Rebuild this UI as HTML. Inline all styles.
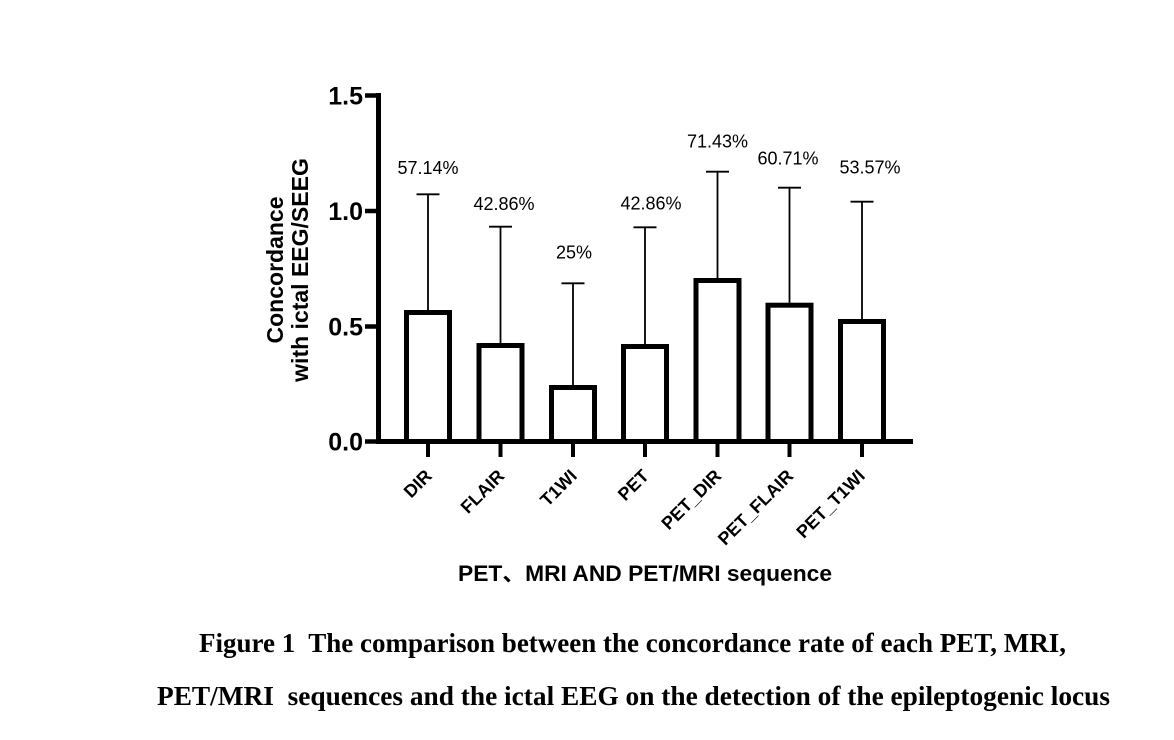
<!DOCTYPE html>
<html>
<head>
<meta charset="utf-8">
<style>
  html, body { margin:0; padding:0; background:#fff; }
  svg { display:block; }
  text { fill:#000; }
  .sans { font-family: "Liberation Sans", "Noto Sans CJK SC", sans-serif; }
  .serif { font-family: "Liberation Serif", "Noto Serif CJK SC", serif; font-weight:bold; }
</style>
</head>
<body>
<svg width="1174" height="740" viewBox="0 0 1174 740" xmlns="http://www.w3.org/2000/svg">
  <rect width="1174" height="740" fill="#fff"/>

  <!-- Axes -->
  <line x1="378.5" y1="93" x2="378.5" y2="444" stroke="#000" stroke-width="5"/>
  <line x1="376" y1="441.5" x2="913" y2="441.5" stroke="#000" stroke-width="5"/>

  <!-- Y ticks -->
  <g stroke="#000" stroke-width="4.5">
    <line x1="365" y1="95.5" x2="379" y2="95.5"/>
    <line x1="365" y1="211" x2="379" y2="211"/>
    <line x1="365" y1="326.5" x2="379" y2="326.5"/>
    <line x1="365" y1="441.5" x2="379" y2="441.5"/>
  </g>
  <g class="sans" font-weight="bold" font-size="25" text-anchor="end">
    <text x="363" y="104.5">1.5</text>
    <text x="363" y="220">1.0</text>
    <text x="363" y="335.5">0.5</text>
    <text x="363" y="450.5">0.0</text>
  </g>

  <!-- Y title -->
  <g class="sans" font-weight="bold" font-size="23" text-anchor="middle">
    <text transform="translate(283,270) rotate(-90)">Concordance</text>
    <text transform="translate(308,270) rotate(-90)">with ictal EEG/SEEG</text>
  </g>

  <!-- Bars -->
  <g fill="#fff" stroke="#000" stroke-width="5">
    <rect x="406.5" y="312.5" width="43" height="129"/>
    <rect x="479" y="345.5" width="43" height="96"/>
    <rect x="551.5" y="387.5" width="43" height="54"/>
    <rect x="623.5" y="346.5" width="43" height="95"/>
    <rect x="696" y="280.5" width="43" height="161"/>
    <rect x="768" y="305.2" width="43" height="136.3"/>
    <rect x="840.5" y="321.5" width="43" height="120"/>
  </g>

  <!-- Error bars -->
  <g stroke="#000" stroke-width="1.8">
    <line x1="428" y1="310" x2="428" y2="194.3"/><line x1="416.5" y1="194.3" x2="439.5" y2="194.3"/>
    <line x1="500.5" y1="343" x2="500.5" y2="226.7"/><line x1="489" y1="226.7" x2="512" y2="226.7"/>
    <line x1="573" y1="385" x2="573" y2="283.3"/><line x1="561.5" y1="283.3" x2="584.5" y2="283.3"/>
    <line x1="645" y1="344" x2="645" y2="227.3"/><line x1="633.5" y1="227.3" x2="656.5" y2="227.3"/>
    <line x1="717.5" y1="278" x2="717.5" y2="171.7"/><line x1="706" y1="171.7" x2="729" y2="171.7"/>
    <line x1="789.5" y1="302.7" x2="789.5" y2="187.7"/><line x1="778" y1="187.7" x2="801" y2="187.7"/>
    <line x1="862" y1="319" x2="862" y2="201.7"/><line x1="850.5" y1="201.7" x2="873.5" y2="201.7"/>
  </g>

  <!-- Data labels -->
  <g class="sans" font-size="18" text-anchor="middle">
    <text x="428" y="174">57.14%</text>
    <text x="504" y="210">42.86%</text>
    <text x="574" y="258.5">25%</text>
    <text x="651" y="209.5">42.86%</text>
    <text x="717.5" y="147.5">71.43%</text>
    <text x="788" y="164.5">60.71%</text>
    <text x="870" y="173.5">53.57%</text>
  </g>

  <!-- X ticks -->
  <g stroke="#000" stroke-width="4">
    <line x1="428" y1="441" x2="428" y2="457"/>
    <line x1="500.5" y1="441" x2="500.5" y2="457"/>
    <line x1="573" y1="441" x2="573" y2="457"/>
    <line x1="645" y1="441" x2="645" y2="457"/>
    <line x1="717.5" y1="441" x2="717.5" y2="457"/>
    <line x1="789.5" y1="441" x2="789.5" y2="457"/>
    <line x1="862" y1="441" x2="862" y2="457"/>
  </g>

  <!-- X labels -->
  <g class="sans" font-weight="bold" font-size="18" text-anchor="end">
    <text transform="translate(433,477) rotate(-45)">DIR</text>
    <text transform="translate(505.5,477) rotate(-45)">FLAIR</text>
    <text transform="translate(578,477) rotate(-45)">T1WI</text>
    <text transform="translate(650,477) rotate(-45)">PET</text>
    <text transform="translate(722.5,477) rotate(-45)">PET_DIR</text>
    <text transform="translate(794.5,477) rotate(-45)">PET_FLAIR</text>
    <text transform="translate(866,477) rotate(-45)">PET_T1WI</text>
  </g>

  <!-- X title -->
  <text class="sans" font-weight="bold" font-size="22" x="458" y="581" textLength="374" lengthAdjust="spacingAndGlyphs">PET、MRI AND PET/MRI sequence</text>

  <!-- Caption -->
  <text class="serif" font-size="27.5" x="199" y="652" textLength="867" lengthAdjust="spacingAndGlyphs" style="white-space:pre" xml:space="preserve">Figure 1  The comparison between the concordance rate of each PET, MRI,</text>
  <text class="serif" font-size="27.5" x="157" y="705" textLength="953" lengthAdjust="spacingAndGlyphs" style="white-space:pre" xml:space="preserve">PET/MRI  sequences and the ictal EEG on the detection of the epileptogenic locus</text>
</svg>
</body>
</html>
